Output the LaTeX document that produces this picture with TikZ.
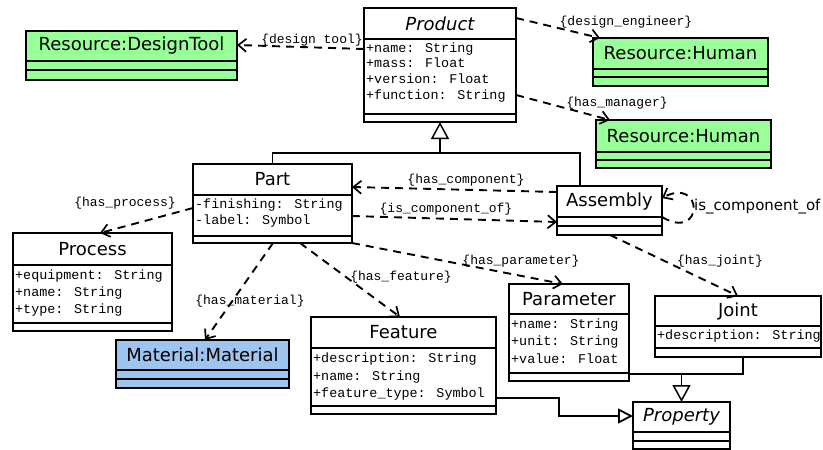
\documentclass[tikz,border=0pt]{standalone}
\usepackage{fontspec}
\usetikzlibrary{arrows.meta,calc}
\newfontfamily\uititle{DejaVu Sans}
\newfontfamily\uimono{Liberation Mono}
\definecolor{resgreen}{RGB}{153,255,153}
\definecolor{matblue}{RGB}{158,197,240}

\tikzset{
  classbox/.style={draw=black, line width=2pt, inner sep=0pt, outer sep=0pt},
  sepline/.style={line width=1.4pt},
  ctitle/.style={font=\uititle\fontsize{18}{20}\selectfont, inner sep=0pt},
  attr/.style={font=\uimono\fontsize{13.4}{15}\selectfont, anchor=west, inner sep=0pt,
               text height=9pt, text depth=2.5pt},
  rolelabel/.style={font=\uimono\fontsize{13}{15}\selectfont, inner sep=0pt},
  dep/.style={line width=1.9pt, dash pattern=on 8pt off 6pt,
              -{Straight Barb[length=8pt,width=13pt,line width=1.7pt]}},
  gen/.style={line width=1.2pt},
  genhead/.style={-{Triangle[open,length=17pt,width=18pt,line width=1.5pt]}},
}

% class box: name, left, top, right, bottom, first separator, second separator, fill
\newcommand\umlclass[8]{%
  \node[classbox, fill=#8, anchor=north west,
        minimum width={(#4)-(#2)}, minimum height={(#5)-(#3)}] (#1) at (#2,#3) {};
  \draw[sepline] (#1.west |- 0,#6) -- (#1.east |- 0,#6);
  \draw[sepline] (#1.west |- 0,#7) -- (#1.east |- 0,#7);
}

\begin{document}
\begin{tikzpicture}[x=1pt,y=-1pt]
\useasboundingbox (0,0) rectangle (823,450);

% ---- classes ----
\umlclass{dt}{26}{31}{237}{80}{61}{70}{resgreen}
\node[ctitle] (dtt) at (131.5,46) {Resource:DesignTool};

\umlclass{prod}{364}{8}{516}{122}{39}{114}{white}
\node[ctitle] (prodt) at (440,23.5) {\itshape Product};
\node[attr] (proda1) at (366,49) {+name: String};
\node[attr] (proda2) at (366,64) {+mass: Float};
\node[attr] (proda3) at (366,80) {+version: Float};
\node[attr] (proda4) at (366,96) {+function: String};

\umlclass{hone}{593}{38}{768}{86}{69}{77}{resgreen}
\node[ctitle] (honet) at (680.5,53.5) {Resource:Human};

\umlclass{htwo}{596}{120}{771}{168}{152}{160}{resgreen}
\node[ctitle] (htwot) at (683.5,136) {Resource:Human};

\umlclass{part}{193}{164}{352}{243}{195}{236}{white}
\node[ctitle] (partt) at (272.5,179.5) {Part};
\node[attr] (parta1) at (195,205) {-finishing: String};
\node[attr] (parta2) at (195,221) {-label: Symbol};

\umlclass{proc}{13}{233}{172}{331}{265}{323}{white}
\node[ctitle] (proct) at (92.5,249) {Process};
\node[attr] (proca1) at (15,276) {+equipment: String};
\node[attr] (proca2) at (15,293) {+name: String};
\node[attr] (proca3) at (15,310) {+type: String};

\umlclass{asm}{557}{186}{662}{235}{217}{226}{white}
\node[ctitle] (asmt) at (609.5,201.5) {Assembly};

\umlclass{param}{509}{284}{629}{381}{314}{373}{white}
\node[ctitle] (paramt) at (569,299) {Parameter};
\node[attr] (parama1) at (511,325) {+name: String};
\node[attr] (parama2) at (511,342) {+unit: String};
\node[attr] (parama3) at (511,360) {+value: Float};

\umlclass{joint}{655}{296}{821}{357}{326}{348}{white}
\node[ctitle] (jointt) at (738,311) {Joint};
\node[attr] (jointa1) at (657,336) {+description: String};

\umlclass{feat}{311}{317}{496}{414}{348}{406}{white}
\node[ctitle] (featt) at (403.5,332.5) {Feature};
\node[attr] (feata1) at (313,359) {+description: String};
\node[attr] (feata2) at (313,377) {+name: String};
\node[attr] (feata3) at (313,394) {+feature\_type: Symbol};

\umlclass{mat}{116}{340}{289}{388}{370}{379}{matblue}
\node[ctitle] (matt) at (202.5,355) {Material:Material};

\umlclass{prop}{633}{402}{730}{449}{432}{441}{white}
\node[ctitle] (propt) at (681.5,417) {\itshape Property};

% ---- generalisations ----
\coordinate (gjp) at (440,153);
\draw[gen] (part.north) |- (gjp) -| (asm.north -| 580,0);
\draw[gen, genhead] (gjp) -- (prod.south);

\coordinate (gjq) at (681.5,374);
\draw[gen] (param.east |- gjq) -| (joint.south -| 743,0);
\draw[gen, genhead] (gjq) -- (prop.north);

\coordinate (fbend) at (559,416);
\draw[line width=2pt, -{Triangle[open,length=15pt,width=15pt,line width=1.8pt]}]
  (feat.east |- 0,398) -| (fbend) -- (prop.west |- fbend);

% ---- dependencies ----
\draw[dep] (prod.west |- 0,49) -- (dt.east |- 0,45);
\draw[dep] (prod.east |- 0,18) -- (hone.north -| 600,0);
\draw[dep] (prod.east |- 0,95) -- (htwo.north -| 610,0);
\draw[dep] (asm.west |- 0,192) -- (part.east |- 0,187);
\draw[dep] (part.east |- 0,216) -- (asm.west |- 0,222);
\draw[dep] (asm.east |- 0,217) .. controls (704,242) and (704,176) .. (asm.east |- 0,198);
\draw[dep] (part.west |- 0,208) -- (proc.north -| 100,0);
\draw[dep] (part.south -| 273,0) -- (mat.north -| 205,0);
\draw[dep] (part.south -| 300,0) -- (feat.north -| 400,0);
\draw[dep] (part.south east) -- (param.north -| 563,0);
\draw[dep] (asm.south -| 610,0) -- (joint.north -| 738,0);

% ---- role labels ----
\node[rolelabel] (ldt) at (312,40) {\{design tool\}};
\node[rolelabel] (lde) at (626,22) {\{design\_engineer\}};
\node[rolelabel] (lhm) at (617,103) {\{has\_manager\}};
\node[rolelabel] (lhc) at (466,180) {\{has\_component\}};
\node[rolelabel] (lic) at (446,209) {\{is\_component\_of\}};
\node[rolelabel] (lhp) at (125,203) {\{has\_process\}};
\node[rolelabel] (lhmat) at (250,301) {\{has\_material\}};
\node[rolelabel] (lhf) at (401,277) {\{has\_feature\}};
\node[rolelabel] (lhpar) at (521,261) {\{has\_parameter\}};
\node[rolelabel] (lhj) at (720,261) {\{has\_joint\}};
\node[font=\uititle\fontsize{15}{17}\selectfont, inner sep=0pt, anchor=west] (lself) at (694,207) {is\_component\_of};
\end{tikzpicture}
\end{document}
